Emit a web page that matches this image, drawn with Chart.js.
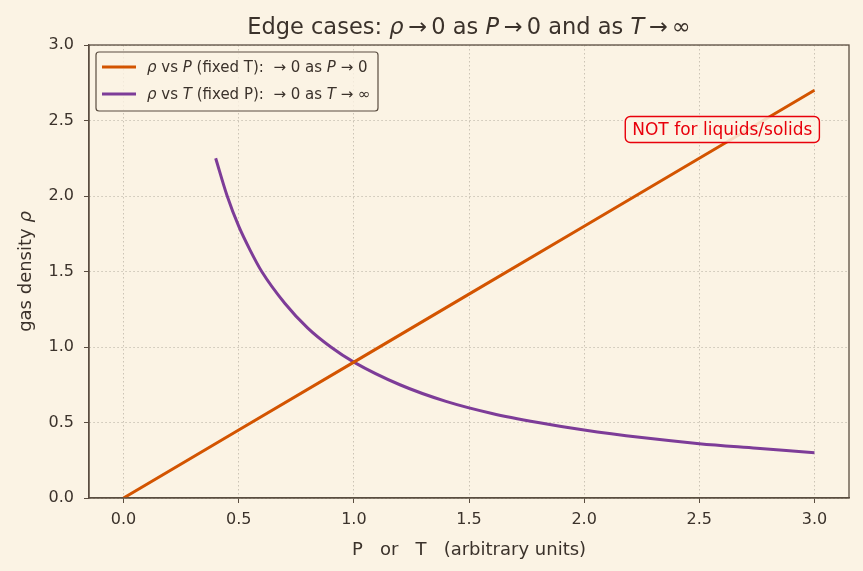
<!DOCTYPE html>
<html>
<head>
<meta charset="utf-8">
<script src="https://cdn.jsdelivr.net/npm/chart.js@4"></script>
<style>
  html, body { margin: 0; padding: 0; background: #fbf3e4; }
  #wrap { position: relative; width: 863px; height: 571px; }
</style>
</head>
<body>
<div id="wrap"><canvas id="grafico"></canvas></div>
<script>
// dados
const pressao = [0, 0.5, 1.0, 1.5, 2.0, 2.5, 3.0];
const densidadeP = [0, 0.45, 0.9, 1.35, 1.8, 2.25, 2.7];

const temperatura = [0.4, 0.45, 0.5, 0.55, 0.6, 0.7, 0.8, 0.9, 1.0, 1.2, 1.4, 1.6, 1.8, 2.0, 2.25, 2.5, 2.75, 3.0];
const densidadeT = [2.25, 2.0, 1.8, 1.64, 1.5, 1.29, 1.125, 1.0, 0.9, 0.75, 0.64, 0.56, 0.5, 0.45, 0.4, 0.36, 0.33, 0.3];

const ticksX = [0, 0.5, 1.0, 1.5, 2.0, 2.5, 3.0];
const ticksY = [0, 0.5, 1.0, 1.5, 2.0, 2.5, 3.0];

const corFundo = '#fbf3e4';
const corTexto = '#3b322b';
const corEixo = '#5a4d40';
const corGrade = '#cbc3b5';
const laranja = '#d35400';
const roxo = '#7d3c98';
const fonte = '"DejaVu Sans", sans-serif';

// desenha texto com trechos em italico
function textoMisto(ctx, partes, x, y, tam, alinhar) {
  let total = 0;
  partes.forEach(p => {
    ctx.font = (p[1] ? 'italic ' : '') + tam + 'px ' + fonte;
    total += ctx.measureText(p[0]).width;
  });
  let cx = alinhar === 'center' ? x - total / 2 : x;
  ctx.textAlign = 'left';
  partes.forEach(p => {
    ctx.font = (p[1] ? 'italic ' : '') + tam + 'px ' + fonte;
    ctx.fillText(p[0], cx, y);
    cx += ctx.measureText(p[0]).width;
  });
}

const extras = {
  id: 'extras',
  beforeDraw(chart) {
    const ctx = chart.ctx;
    ctx.save();
    ctx.fillStyle = corFundo;
    ctx.fillRect(0, 0, chart.width, chart.height);
    ctx.restore();
  },
  afterDraw(chart) {
    const ctx = chart.ctx;
    const a = chart.chartArea;
    const sx = chart.scales.x, sy = chart.scales.y;
    ctx.save();

    // moldura
    ctx.strokeStyle = corEixo;
    ctx.lineWidth = 1.3;
    ctx.strokeRect(a.left, a.top, a.right - a.left, a.bottom - a.top);

    // titulo
    ctx.fillStyle = corTexto;
    ctx.textBaseline = 'alphabetic';
    textoMisto(ctx, [['Edge cases: ', false], ['ρ', true], ['\u2009→\u20090 as ', false], ['P', true],
      ['\u2009→\u20090 and as ', false], ['T', true], ['\u2009→\u2009∞', false]], (a.left + a.right) / 2, 34, 22.5, 'center');

    // rotulo x
    ctx.font = '18px ' + fonte;
    ctx.textAlign = 'center';
    ctx.fillText('P   or   T   (arbitrary units)', (a.left + a.right) / 2, 555);

    // rotulo y
    ctx.save();
    ctx.translate(31, (a.top + a.bottom) / 2);
    ctx.rotate(-Math.PI / 2);
    textoMisto(ctx, [['gas density ', false], ['ρ', true]], 0, 0, 18, 'center');
    ctx.restore();

    // legenda
    const lx = a.left + 7, ly = a.top + 7, lw = 282, lh = 59;
    ctx.fillStyle = 'rgba(251,243,228,0.8)';
    ctx.strokeStyle = corEixo;
    ctx.lineWidth = 1.2;
    ctx.beginPath();
    ctx.roundRect(lx, ly, lw, lh, 3);
    ctx.fill();
    ctx.stroke();
    const itens = [
      [laranja, [['ρ', true], [' vs ', false], ['P', true], [' (fixed T):  → 0 as ', false], ['P', true], [' → 0', false]]],
      [roxo, [['ρ', true], [' vs ', false], ['T', true], [' (fixed P):  → 0 as ', false], ['T', true], [' → ∞', false]]]
    ];
    itens.forEach((it, i) => {
      const yy = ly + 15 + i * 27;
      ctx.strokeStyle = it[0];
      ctx.lineWidth = 3;
      ctx.beginPath();
      ctx.moveTo(lx + 6, yy);
      ctx.lineTo(lx + 40, yy);
      ctx.stroke();
      ctx.fillStyle = corTexto;
      ctx.textBaseline = 'middle';
      textoMisto(ctx, it[1], lx + 51, yy + 1, 15, 'left');
    });

    // anotacao
    const ax = sx.getPixelForValue(2.6), ay = sy.getPixelForValue(2.44);
    ctx.font = '17px ' + fonte;
    const tw = ctx.measureText('NOT for liquids/solids').width;
    ctx.fillStyle = 'rgba(251,243,228,0.85)';
    ctx.strokeStyle = '#e8000b';
    ctx.lineWidth = 1.4;
    ctx.beginPath();
    ctx.roundRect(ax - tw / 2 - 7, ay - 13, tw + 14, 26, 5);
    ctx.fill();
    ctx.stroke();
    ctx.fillStyle = '#e8000b';
    ctx.textAlign = 'center';
    ctx.textBaseline = 'middle';
    ctx.fillText('NOT for liquids/solids', ax, ay + 1);

    ctx.restore();
  }
};

function graficoDensidade() {
  const ctx = document.getElementById('grafico').getContext('2d');
  new Chart(ctx, {
    type: 'line',
    data: {
      datasets: [
        {
          label: 'rho vs P',
          data: pressao.map((p, i) => ({ x: p, y: densidadeP[i] })),
          borderColor: laranja,
          borderWidth: 3,
          pointRadius: 0
        },
        {
          label: 'rho vs T',
          data: temperatura.map((t, i) => ({ x: t, y: densidadeT[i] })),
          borderColor: roxo,
          borderWidth: 3,
          pointRadius: 0,
          cubicInterpolationMode: 'monotone'
        }
      ]
    },
    options: {
      responsive: true,
      maintainAspectRatio: false,
      animation: false,
      layout: { padding: { left: 0, top: 45, right: 14, bottom: 0 } },
      plugins: { legend: { display: false }, title: { display: false }, tooltip: { enabled: false } },
      scales: {
        x: {
          type: 'linear',
          min: -0.15,
          max: 3.15,
          afterBuildTicks: s => { s.ticks = ticksX.map(v => ({ value: v })); },
          afterFit: s => { s.height = 73; },
          grid: { color: corGrade, tickColor: corEixo, tickLength: 5, tickBorderDash: [], lineWidth: 1 },
          border: { color: corEixo, width: 1.3, dash: [1.5, 2.5] },
          ticks: { color: corTexto, font: { family: fonte, size: 16 }, padding: 7, maxRotation: 0,
            callback: v => Number(v).toFixed(1) }
        },
        y: {
          type: 'linear',
          min: 0,
          max: 3,
          afterBuildTicks: s => { s.ticks = ticksY.map(v => ({ value: v })); },
          afterFit: s => { s.width = 89; },
          grid: { color: corGrade, tickColor: corEixo, tickLength: 5, tickBorderDash: [], lineWidth: 1 },
          border: { color: corEixo, width: 1.3, dash: [1.5, 2.5] },
          ticks: { color: corTexto, font: { family: fonte, size: 16 }, padding: 10,
            callback: v => Number(v).toFixed(1) }
        }
      }
    },
    plugins: [extras]
  });
}

window.onload = () => {
  graficoDensidade();
};
</script>
</body>
</html>
